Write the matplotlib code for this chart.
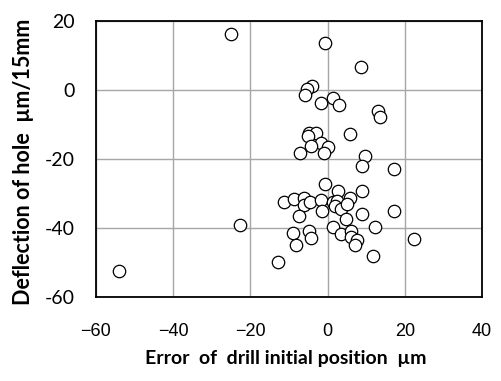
import matplotlib
matplotlib.use('Agg')
from matplotlib import pyplot as plt

# error of drill initial position (um) / deflection of hole (um/15mm)
err_x = [-25.0, -0.7, 8.75, -3.9, -5.4, -5.8, -1.8, 1.3, 3.1, 13.2, 13.7,
         5.8, -4.8, -3.0, -5.0, -1.7, -4.2, 0.0, -0.9, -7.1, 9.8, 8.9, 17.3,
         -0.7, 2.8, 8.9, -11.2, -8.6, -6.2, -6.2, -4.6, -1.7, -1.3, 1.3, 2.4,
         2.0, 3.5, 5.8, 5.0, -7.4, 4.8, 8.9, 17.3, 12.3, 1.3, -8.9, -4.8,
         -4.3, -8.2, 3.6, 6.2, 6.1, 7.6, 7.2, 22.5, 11.7, -12.8, -22.7, -53.9]
defl_y = [16.2, 13.7, 6.6, 1.2, 0.2, -1.4, -3.9, -2.4, -4.3, -6.2, -7.9,
          -12.8, -12.4, -12.4, -13.3, -15.3, -16.4, -16.7, -18.4, -18.4, -19.3, -22.0, -22.8,
          -27.4, -29.2, -29.3, -32.4, -31.6, -31.3, -33.3, -32.4, -31.9, -35.0, -32.5, -32.1,
          -33.8, -34.4, -31.4, -33.0, -36.7, -37.3, -36.1, -35.0, -39.8, -39.8, -41.5, -40.8,
          -43.0, -44.9, -41.7, -40.8, -42.7, -43.5, -44.9, -43.3, -48.1, -49.8, -39.3, -52.4]

x_ticks = [-60, -40, -20, 0, 20, 40]
x_labels = ['\u221260', '\u221240', '\u221220', '0', '20', '40']
y_ticks = [-60, -40, -20, 0, 20]
y_labels = ['-60', '-40', '-20', '0', '20']

fig = plt.figure(figsize=(5.02, 3.81), dpi=100)
ax = fig.add_axes([0.191, 0.221, 0.769, 0.724])
ax.scatter(err_x, defl_y, s=80, facecolor='white', edgecolor='black',
           linewidth=0.9, zorder=3)
ax.set_xlim(-60, 40)
ax.set_ylim(-60, 20)
ax.set_xticks(x_ticks)
ax.set_xticklabels(x_labels, fontsize=13, family='Liberation Sans')
ax.set_yticks(y_ticks)
ax.set_yticklabels(y_labels, fontsize=14, family='Lato')
ax.tick_params(axis='x', length=0, pad=19)
ax.tick_params(axis='y', length=0, pad=15)
ax.grid(True, color='#a6a6a6', linewidth=1.0)
ax.set_axisbelow(True)
for sp in ax.spines.values():
    sp.set_linewidth(1.3)
    sp.set_color('black')
fig.text(0.57, 0.058, 'Error  of  drill initial position  \u00b5m', ha='center',
         va='center', fontsize=14, fontweight='bold', family='Lato')
fig.text(0.047, 0.575, 'Deflection of hole  \u00b5m/15mm', ha='center', va='center',
         rotation=90, fontsize=15.5, fontweight='bold', family='Lato')
fig.savefig('out.png', dpi=100)
